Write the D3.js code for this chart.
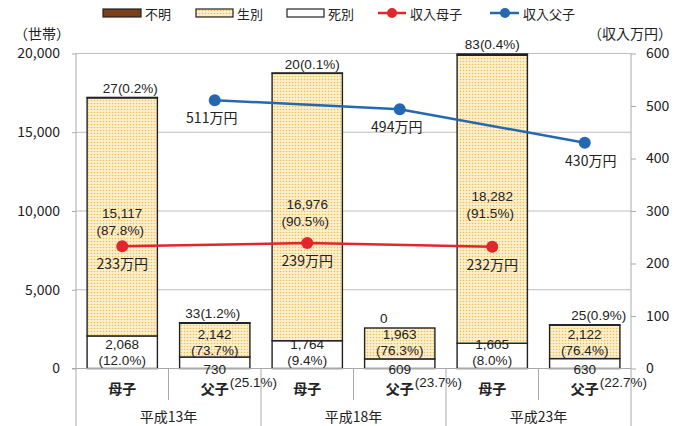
<!DOCTYPE html>
<html><head><meta charset="utf-8">
<script src="https://cdn.jsdelivr.net/npm/d3@7/dist/d3.min.js"></script>
<style>
body{margin:0;background:#fff;}
text{font-family:"Noto Sans CJK JP","Noto Sans",sans-serif;fill:#222;}
text.num{font-family:"Liberation Sans","Arimo",sans-serif;}
</style></head>
<body><svg id="c" width="680" height="426"></svg>
<script>
const groups = ["平成13年", "平成18年", "平成23年"];
const types = ["母子", "父子"];
const shibetsu = [2068, 730, 1764, 609, 1605, 630];
const seibetsu = [15117, 2142, 16976, 1963, 18282, 2122];
const fumei = [27, 33, 20, 0, 83, 25];
const shibetsuPct = ["12.0", "25.1", "9.4", "23.7", "8.0", "22.7"];
const seibetsuPct = ["87.8", "73.7", "90.5", "76.3", "91.5", "76.4"];
const fumeiPct = ["0.2", "1.2", "0.1", null, "0.4", "0.9"];
const incomeBoshi = [233, 239, 232];
const incomeFushi = [511, 494, 430];
const leftTicks = [0, 5000, 10000, 15000, 20000];
const rightTicks = [0, 100, 200, 300, 400, 500, 600];
const legendNames = ["不明", "生別", "死別", "収入母子", "収入父子"];

const svg = d3.select("#c");
const L = 76, R = 631, T = 53.5, B = 368.5;
const cats = [];
groups.forEach(g => types.forEach(t => cats.push(g + "|" + t)));
const x = d3.scaleBand().domain(cats).range([L, R]).paddingInner(0.24).paddingOuter(0.12);
const xb = d3.scaleBand().domain(cats).range([L, R]);
const y = d3.scaleLinear().domain([0, 20000]).range([B, T]);
const y2 = d3.scaleLinear().domain([0, 600]).range([B, T]);

const defs = svg.append("defs");
const pat = defs.append("pattern").attr("id", "dots").attr("patternUnits", "userSpaceOnUse").attr("width", 3).attr("height", 3);
pat.append("rect").attr("width", 3).attr("height", 3).attr("fill", "#fdf0cc");
pat.append("circle").attr("cx", 1.5).attr("cy", 1.5).attr("r", 0.8).attr("fill", "#efbd5a");

// gridlines
svg.append("g").selectAll("line").data(leftTicks.filter(d => d > 0)).join("line")
  .attr("x1", L).attr("x2", R).attr("y1", d => y(d)).attr("y2", d => y(d))
  .attr("stroke", "#bdbdbd").attr("stroke-width", 1);

// left axis
const ga = svg.append("g").attr("transform", `translate(${L},0)`)
  .call(d3.axisLeft(y).tickValues(leftTicks).tickSize(4).tickPadding(12).tickFormat(d3.format(",")));
ga.select(".domain").attr("stroke", "#aaa").attr("d", `M0,${T}V426`);
ga.selectAll(".tick line").attr("stroke", "#aaa");
ga.selectAll("text").style("font-size", "14px").attr("fill", "#222");

// right axis
const gr = svg.append("g").attr("transform", `translate(${R},0)`)
  .call(d3.axisRight(y2).tickValues(rightTicks).tickSize(5).tickPadding(10));
gr.select(".domain").attr("stroke", "#aaa").attr("d", `M0,${T}V${B}`);
gr.selectAll(".tick line").attr("stroke", "#aaa");
gr.selectAll("text").style("font-size", "14px").attr("fill", "#222");

// bars
const bars = svg.append("g");
cats.forEach((c, i) => {
  const s0 = shibetsu[i], s1 = s0 + seibetsu[i], s2 = s1 + fumei[i];
  bars.append("rect").attr("x", x(c)).attr("width", x.bandwidth())
    .attr("y", y(s0)).attr("height", y(0) - y(s0)).attr("fill", "#fff").attr("stroke", "#222").attr("stroke-width", 1.4);
  bars.append("rect").attr("x", x(c)).attr("width", x.bandwidth())
    .attr("y", y(s1)).attr("height", y(s0) - y(s1)).attr("fill", "url(#dots)").attr("stroke", "#222").attr("stroke-width", 1.4);
  if (fumei[i] > 0)
    bars.append("rect").attr("x", x(c)).attr("width", x.bandwidth())
      .attr("y", y(s2)).attr("height", y(s1) - y(s2)).attr("fill", "#7b3f1a").attr("stroke", "#222").attr("stroke-width", 1.4);
});

// baseline + category separators
svg.append("line").attr("x1", L - 4).attr("x2", R).attr("y1", B).attr("y2", B).attr("stroke", "#aaa");
cats.forEach((c, i) => {
  if (i === 0) return;
  const xx = xb(c);
  svg.append("line").attr("x1", xx).attr("x2", xx).attr("y1", B).attr("y2", i % 2 === 0 ? 426 : 400).attr("stroke", "#aaa");
});
svg.append("line").attr("x1", R).attr("x2", R).attr("y1", B).attr("y2", 426).attr("stroke", "#aaa");

const lbl = (xx, yy, t, size, anchor) => svg.append("text").attr("x", xx).attr("y", yy)
  .attr("text-anchor", anchor || "middle").attr("dominant-baseline", "central")
  .style("font-size", (size || 13) + "px").text(t);
const nlbl = (xx, yy, t, size, anchor) => lbl(xx, yy, t, size, anchor).attr("class", "num");

cats.forEach((c, i) => {
  const [g, t] = c.split("|");
  lbl(xb(c) + xb.bandwidth() / 2, 388, t, 14).style("font-weight", "bold");
});
groups.forEach((g, gi) => {
  lbl((xb(cats[gi * 2]) + xb(cats[gi * 2 + 1]) + xb.bandwidth()) / 2, 416, g, 14);
});

// data labels
const fmt = d3.format(",");
const fumeiDx = [8, -2, 5, -16, 0, 14];
const NS = 13.5;
cats.forEach((c, i) => {
  const cx = x(c) + x.bandwidth() / 2;
  const isBoshi = i % 2 === 0;
  const s0 = shibetsu[i], s1 = s0 + seibetsu[i], s2 = s1 + fumei[i];
  if (isBoshi) {
    nlbl(cx, y(0) - 24, fmt(shibetsu[i]), NS);
    nlbl(cx, y(0) - 8, "(" + shibetsuPct[i] + "%)", NS);
    const mid = y((s0 + s1) / 2);
    nlbl(cx, mid - 3, fmt(seibetsu[i]), NS);
    nlbl(cx - 2, mid + 14, "(" + seibetsuPct[i] + "%)", NS);
  } else {
    nlbl(cx, y(0) + 0.5, fmt(shibetsu[i]), NS);
    nlbl(cx + 15, y(0) + 14, "(" + shibetsuPct[i] + "%)", NS, "start");
    nlbl(cx, y(0) - 34, fmt(seibetsu[i]), NS);
    nlbl(cx, y(0) - 18, "(" + seibetsuPct[i] + "%)", NS);
  }
  nlbl(cx + fumeiDx[i], y(s2) - 9, fumei[i] + (fumeiPct[i] ? "(" + fumeiPct[i] + "%)" : ""), NS);
});

// lines
const boshiX = groups.map((g, gi) => x(cats[gi * 2]) + x.bandwidth() / 2);
const fushiX = groups.map((g, gi) => x(cats[gi * 2 + 1]) + x.bandwidth() / 2);
const line = d3.line();
const drawSeries = (xs, vals, color, dxs) => {
  svg.append("path").attr("d", line(vals.map((v, k) => [xs[k], y2(v)])))
    .attr("fill", "none").attr("stroke", color).attr("stroke-width", 2.5);
  vals.forEach((v, k) => {
    svg.append("circle").attr("cx", xs[k]).attr("cy", y2(v)).attr("r", 6).attr("fill", color);
    lbl(xs[k] + dxs[k], y2(v) + 17, v + "万円", 14);
  });
};
drawSeries(boshiX, incomeBoshi, "#e3262b", [0, 0, 0]);
drawSeries(fushiX, incomeFushi, "#2468b2", [-3, -3, 6]);

// axis titles
lbl(42, 33, "（世帯）", 14);
lbl(630, 33, "（収入万円）", 14);

// legend
const lg = svg.append("g");
const ly = 13;
lg.append("rect").attr("x", 103).attr("y", ly - 4).attr("width", 38).attr("height", 8).attr("fill", "#7b3f1a").attr("stroke", "#222").attr("stroke-width", 1.2);
lbl(145, ly, legendNames[0], 13, "start");
lg.append("rect").attr("x", 196).attr("y", ly - 4).attr("width", 37).attr("height", 8).attr("fill", "url(#dots)").attr("stroke", "#222").attr("stroke-width", 1.2);
lbl(237, ly, legendNames[1], 13, "start");
lg.append("rect").attr("x", 287).attr("y", ly - 4).attr("width", 37).attr("height", 8).attr("fill", "#fff").attr("stroke", "#222").attr("stroke-width", 1.2);
lbl(328, ly, legendNames[2], 13, "start");
lg.append("line").attr("x1", 378).attr("x2", 406).attr("y1", ly).attr("y2", ly).attr("stroke", "#e3262b").attr("stroke-width", 2.5);
lg.append("circle").attr("cx", 392).attr("cy", ly).attr("r", 5).attr("fill", "#e3262b");
lbl(410, ly, legendNames[3], 13, "start");
lg.append("line").attr("x1", 490).attr("x2", 519).attr("y1", ly).attr("y2", ly).attr("stroke", "#2468b2").attr("stroke-width", 2.5);
lg.append("circle").attr("cx", 505).attr("cy", ly).attr("r", 5).attr("fill", "#2468b2");
lbl(523, ly, legendNames[4], 13, "start");
</script></body></html>
